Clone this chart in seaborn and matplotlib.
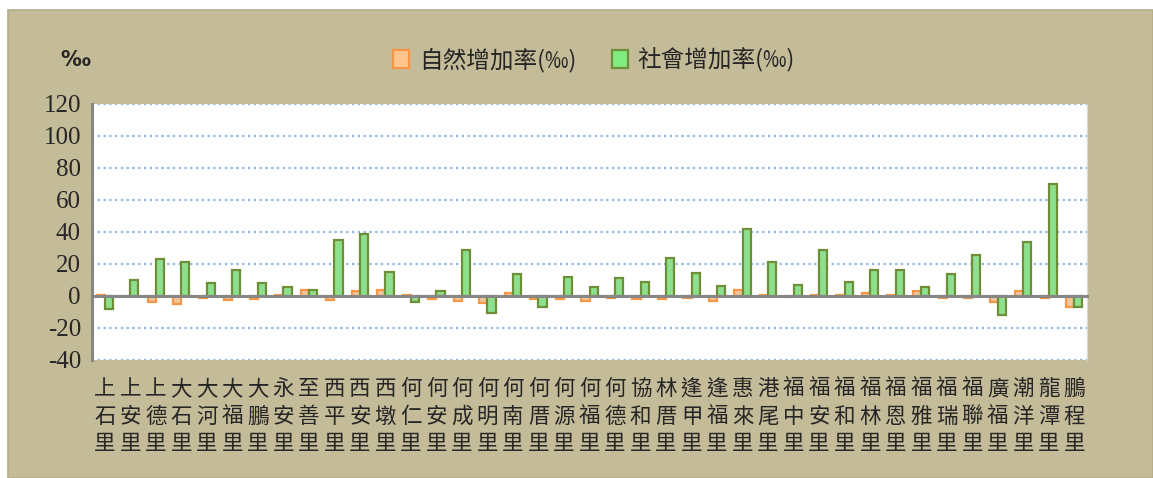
import matplotlib
matplotlib.use("Agg")
import matplotlib.pyplot as plt
from matplotlib.patches import Rectangle, Patch
import seaborn as sns
import pandas as pd
import numpy as np

villages = ["上石里", "上安里", "上德里", "大石里", "大河里", "大福里", "大鵬里", "永安里",
            "至善里", "西平里", "西安里", "西墩里", "何仁里", "何安里", "何成里", "何明里",
            "何南里", "何厝里", "何源里", "何福里", "何德里", "協和里", "林厝里", "逢甲里",
            "逢福里", "惠來里", "港尾里", "福中里", "福安里", "福和里", "福林里", "福恩里",
            "福雅里", "福瑞里", "福聯里", "廣福里", "潮洋里", "龍潭里", "鵬程里"]
natural = [0.5, 0.0, -4.0, -5.0, -1.0, -2.5, -2.0, 0.5, 3.5, -2.5, 3.0, 3.5, 0.5,
           -2.0, -3.0, -4.5, 2.0, -2.0, -2.0, -3.0, -1.0, -2.0, -2.0, -1.0, -3.0,
           4.0, 0.5, -0.5, 0.5, 0.5, 2.0, 0.5, 3.0, -1.0, -1.0, -3.7, 3.0, -1.0, -6.6]
social = [-8.3, 9.8, 23.0, 21.0, 8.0, 16.0, 8.0, 5.6, 4.0, 35.0, 39.0, 15.0, -3.5,
          3.0, 29.0, -10.8, 14.0, -6.6, 12.0, 5.6, 11.0, 9.0, 24.0, 14.5, 6.4,
          42.0, 21.0, 7.0, 29.0, 9.0, 16.0, 16.0, 5.6, 14.0, 25.7, -11.8, 34.0, 70.0, -6.6]
series_names = ["自然增加率(‰)", "社會增加率(‰)"]
yticks = [-40, -20, 0, 20, 40, 60, 80, 100, 120]

sns.set_style("white")
plt.rcParams["font.family"] = ["Noto Sans CJK TC", "DejaVu Sans"]

df = pd.DataFrame({
    "里": villages * 2,
    "類別": [series_names[0]] * len(villages) + [series_names[1]] * len(villages),
    "值": natural + social,
})

fills = ["#FFC58F", "#80EC80"]
edges = ["#F79646", "#6E8F37"]
W, H = 1153, 478
fig = plt.figure(figsize=(W / 100, H / 100), dpi=100, facecolor="white")
fig.patches.append(Rectangle((8 / W, 0), 1 - 8 / W, (H - 10) / H, transform=fig.transFigure,
                             facecolor="#C4BB98", edgecolor="#B5AC88", lw=1.2, zorder=-10))
ax = fig.add_axes([92 / W, 1 - 360 / H, (1087 - 92) / W, (360 - 104) / H])
ax.set_zorder(2)
ax.set_facecolor("white")

sns.barplot(data=df, x="里", y="值", hue="類別", palette=fills, width=0.64,
            ax=ax, order=villages, hue_order=series_names, zorder=3)
for cont, ec in zip(ax.containers, edges):
    for bar in cont:
        bar.set_edgecolor(ec)
        bar.set_linewidth(1.6)
if ax.get_legend() is not None:
    ax.get_legend().remove()

n = len(villages)
ax.set_xlim(-0.5, n - 0.5)
ax.set_ylim(-40, 120)
ax.set_yticks(yticks)
ax.set_yticklabels([str(v) for v in yticks], family="Liberation Serif", fontsize=18)
ax.yaxis.grid(True, linestyle=(0, (1, 1.6)), color="#8DB4E2", lw=1.6, zorder=0)
ax.set_xlabel("")
ax.set_ylabel("")

ax.spines["top"].set_visible(False)
ax.spines["right"].set_color("#D8D8D8")
ax.spines["right"].set_linewidth(0.8)
ax.spines["left"].set_color("#878787")
ax.spines["left"].set_linewidth(2.2)
ax.spines["bottom"].set_position(("data", 0))
ax.spines["bottom"].set_color("#878787")
ax.spines["bottom"].set_linewidth(2.2)
ax.spines["bottom"].set_zorder(4)
ax.tick_params(axis="y", direction="out", length=6, width=2, color="#878787", pad=2)

ax.set_xticks([])
ax.set_xticks(np.arange(n + 1) - 0.5, minor=True)
ax.tick_params(axis="x", which="minor", direction="out", length=7, width=2, color="#878787")

sec = ax.secondary_xaxis("bottom")
sec.set_xticks(np.arange(n))
sec.set_xticklabels(["\n".join(v) for v in villages], fontsize=15.5, linespacing=1.33)
sec.tick_params(length=0, pad=13)
sec.spines["bottom"].set_visible(False)

handles = [Patch(facecolor=f, edgecolor=e, lw=1.6) for f, e in zip(fills, edges)]
fig.legend(handles, series_names, loc="center", bbox_to_anchor=(594 / W, 1 - 60 / H),
           ncol=2, frameon=False, fontsize=17, handlelength=0.7, handleheight=0.8,
           handletextpad=0.4, columnspacing=1.5)
fig.text(75 / W, 1 - 60 / H, "‰", fontsize=15, fontweight="bold", ha="center", va="center",
         family="DejaVu Sans")

fig.savefig("out.png", dpi=100, facecolor="white")
